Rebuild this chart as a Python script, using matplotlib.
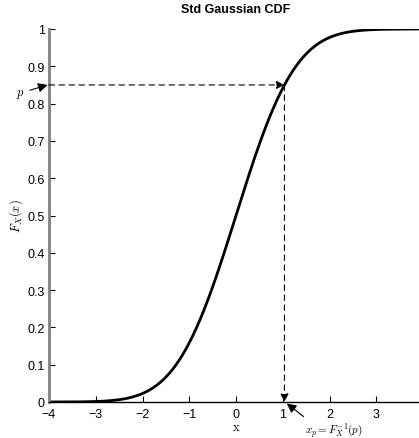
import numpy as np
import matplotlib
matplotlib.use("Agg")
import matplotlib.pyplot as plt
from math import erf, sqrt

plt.rcParams['font.family'] = ['Liberation Sans', 'DejaVu Sans']
plt.rcParams['mathtext.fontset'] = 'cm'

x_min, x_max = -4, 4
p = 0.85
x_ticks = [-4, -3, -2, -1, 0, 1, 2, 3]
x_ticklabels = ['\u22124', '\u22123', '\u22122', '\u22121', '0', '1', '2', '3']
y_ticks = [0, 0.1, 0.2, 0.3, 0.4, 0.5, 0.6, 0.7, 0.8, 0.9, 1]
y_ticklabels = ['0', '0.1', '0.2', '0.3', '0.4', '0.5', '0.6', '0.7', '0.8', '0.9', '1']

xs = np.linspace(x_min, x_max, 801)
cdf = np.array([0.5 * (1 + erf(v / sqrt(2))) for v in xs])
# inverse via bisection
lo, hi = -4.0, 4.0
for _ in range(60):
    mid = 0.5 * (lo + hi)
    if 0.5 * (1 + erf(mid / sqrt(2))) < p:
        lo = mid
    else:
        hi = mid
xp = 0.5 * (lo + hi)

fig = plt.figure(figsize=(4.19, 4.39), dpi=100)
ax = fig.add_axes([49/419, 36/439, 374/419, 373/439])
ax.plot(xs, cdf, color='black', lw=2.0, solid_capstyle='butt')
ax.set_xlim(x_min, x_max)
ax.set_ylim(0, 1)
ax.set_xticks(x_ticks)
ax.set_xticklabels(x_ticklabels)
ax.set_yticks(y_ticks)
ax.set_yticklabels(y_ticklabels)
ax.tick_params(direction='in', length=4, labelsize=9, width=0.8)
ax.tick_params(axis='x', pad=4)
ax.tick_params(axis='y', pad=3)
ax.spines['top'].set_visible(False)
ax.spines['right'].set_visible(False)
ax.spines['left'].set_color('#808080')
ax.spines['left'].set_linewidth(2.0)
ax.spines['bottom'].set_color('black')
ax.spines['bottom'].set_linewidth(1.0)

ax.set_title('Std Gaussian CDF', fontsize=9, fontweight='bold', pad=12)
ax.set_xlabel(r'$\mathrm{x}$', fontsize=9, labelpad=1)
ax.set_ylabel(r'$F_X(x)$', fontsize=9, labelpad=2)

# dashed guide lines with arrowheads
ax.annotate('', xy=(xp, p), xytext=(x_min, p),
            arrowprops=dict(arrowstyle='-|>', linestyle=(0, (5, 4)), color='black',
                            lw=0.8, mutation_scale=12, shrinkA=0, shrinkB=0))
ax.annotate('', xy=(xp, 0), xytext=(xp, p),
            arrowprops=dict(arrowstyle='-|>', linestyle=(0, (5, 4)), color='black',
                            lw=0.8, mutation_scale=12, shrinkA=0, shrinkB=0))

# pointer arrows with labels
ax.annotate(r'$x_p = F_X^{-1}(p)$', xy=(xp + 0.05, -0.004), xytext=(2.1, -0.0735),
            fontsize=8, ha='center', va='center', annotation_clip=False,
            arrowprops=dict(arrowstyle='-|>', color='black', lw=0.8,
                            mutation_scale=14, shrinkA=1, shrinkB=0,
                            relpos=(0.05, 1.0)))
ax.annotate(r'$p$', xy=(x_min - 0.03, p), xytext=(-4.62, 0.828),
            fontsize=9, ha='center', va='center', annotation_clip=False,
            arrowprops=dict(arrowstyle='-|>', color='black', lw=0.8,
                            mutation_scale=14, shrinkA=2, shrinkB=0))

fig.savefig('out.png', dpi=100)
